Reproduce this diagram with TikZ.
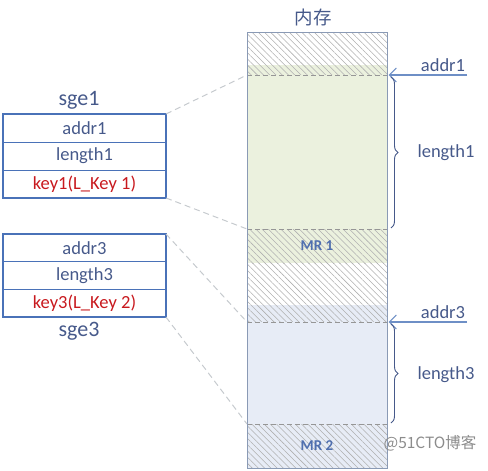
\documentclass[tikz,border=0pt]{standalone}
\usepackage{fontspec}
\setmainfont{Carlito}
\newfontfamily\cjk{Noto Sans CJK SC}
\usetikzlibrary{patterns.meta,arrows.meta,decorations.pathreplacing}
\definecolor{slate}{HTML}{46598A}
\definecolor{tblue}{HTML}{4A72B8}
\definecolor{kred}{HTML}{C8191E}
\definecolor{gfill}{HTML}{EBF1DE}
\definecolor{bfill}{HTML}{E7ECF6}
\definecolor{hatch}{HTML}{B0B0B0}
\definecolor{memline}{HTML}{8A9AB5}
\definecolor{conn}{HTML}{C6CACE}
\definecolor{ptrc}{HTML}{6E8FC6}
\definecolor{mrc}{HTML}{4F6FAF}
\tikzset{
  row/.style={draw=tblue, line width=0.8pt, minimum width=163pt, minimum height=#1,
    inner sep=0pt, outer sep=0pt, font=\fontsize{18.5}{18.5}\selectfont, text=slate, anchor=north west},
  row/.default=28pt,
  frame/.style={draw=tblue, line width=2.4pt},
  region/.style={minimum width=140pt, minimum height=#1, inner sep=0pt, outer sep=0pt, anchor=north west},
  hatched/.style={pattern={Lines[angle=-45,distance=4.4pt,line width=0.55pt]}, pattern color=hatch},
  ghatch/.style={preaction={fill=gfill}, hatched},
  bhatch/.style={preaction={fill=bfill}, hatched},
  divline/.style={draw=hatch!85!black, line width=0.7pt, dash pattern=on 5pt off 3pt},
  conn/.style={draw=conn, line width=1pt, dash pattern=on 6pt off 4pt},
  ptr/.style={draw=ptrc, line width=1.1pt, -{Straight Barb[length=7pt,width=14pt,line width=1.1pt]}},
  brc/.style={draw=slate, line width=0.9pt, decorate, decoration={brace, amplitude=7pt}},
  lbl/.style={text=slate, font=\fontsize{18.5}{18.5}\selectfont},
  ttl/.style={text=slate, font=\fontsize{22}{22}\selectfont},
  mr/.style={text=mrc, font=\bfseries\fontsize{15}{15}\selectfont},
}
\begin{document}
\begin{tikzpicture}[x=1pt,y=-1pt]
\useasboundingbox (0,0) rectangle (488,471);
% memory regions
\node[region=33pt, hatched] (m0) at (247,32) {};
\node[region=10pt, ghatch] (m1) at (247,65) {};
\node[region=154pt, fill=gfill] (m2) at (247,75) {};
\node[region=34pt, ghatch] (m3) at (247,229) {};
\node[region=42pt, hatched] (m4) at (247,263) {};
\node[region=17pt, bhatch] (m5) at (247,305) {};
\node[region=102pt, fill=bfill] (m6) at (247,322) {};
\node[region=44pt, bhatch] (m7) at (247,424) {};
\node[mr] (mr1) at (m3.center) {MR 1};
\node[mr] (mr2) at (m7.center) {MR 2};
\draw[divline] (m2.north west) -- (m2.north east);
\draw[divline] (m3.north west) -- (m3.north east);
\draw[divline] (m6.north west) -- (m6.north east);
\draw[divline] (m7.north west) -- (m7.north east);
\draw[memline, line width=0.8pt] (m0.north west) rectangle (m7.south east);
\node[text=slate, font=\cjk\fontsize{18.5}{18.5}\selectfont] (mem) at (313,17) {内存};
% tables
\node[ttl] (s1) at (79,100) {sge1};
\node[row] (t1a) at (3,114) {addr1};
\node[row] (t1b) at (3,142) {length1};
\node[row, text=kred] (t1c) at (3,170) {key1(L\_Key 1)};
\draw[frame] (t1a.north west) rectangle (t1c.south east);
\node[row=27.7pt] (t2a) at (3,234) {addr3};
\node[row=27.7pt] (t2b) at (3,261.7) {length3};
\node[row=27.7pt, text=kred] (t2c) at (3,289.4) {key3(L\_Key 2)};
\draw[frame] (t2a.north west) rectangle (t2c.south east);
\node[ttl] (s3) at (79,331) {sge3};
% connectors
\draw[conn] (t1a.north east) -- (m2.north west);
\draw[conn] (t1c.south east) -- (m3.north west);
\draw[conn] (t2a.north east) -- (m6.north west);
\draw[conn] (t2c.south east) -- (m7.north west);
% pointers
\coordinate (a1) at (467,75);
\coordinate (a3) at (467,322);
\coordinate (p1) at (388.5,75);
\coordinate (p3) at (388.5,322);
\draw[ptr] (a1) -- (p1);
\draw[ptr] (a3) -- (p3);
\node[lbl] (la1) at (443,65) {addr1};
\node[lbl] (la3) at (443,312) {addr3};
% braces
\coordinate (b1t) at (391,77);
\coordinate (b1b) at (391,228);
\coordinate (b3t) at (391,324);
\coordinate (b3b) at (391,423);
\draw[brc] (b1t) -- (b1b);
\draw[brc] (b3t) -- (b3b);
\node[lbl] (ll1) at (446,153) {length1};
\node[lbl] (ll3) at (446,375) {length3};
% watermark
\node[text=black!45, font=\cjk\fontsize{15.5}{15.5}\selectfont] (wm) at (430,443) {@51CTO博客};
\end{tikzpicture}
\end{document}
